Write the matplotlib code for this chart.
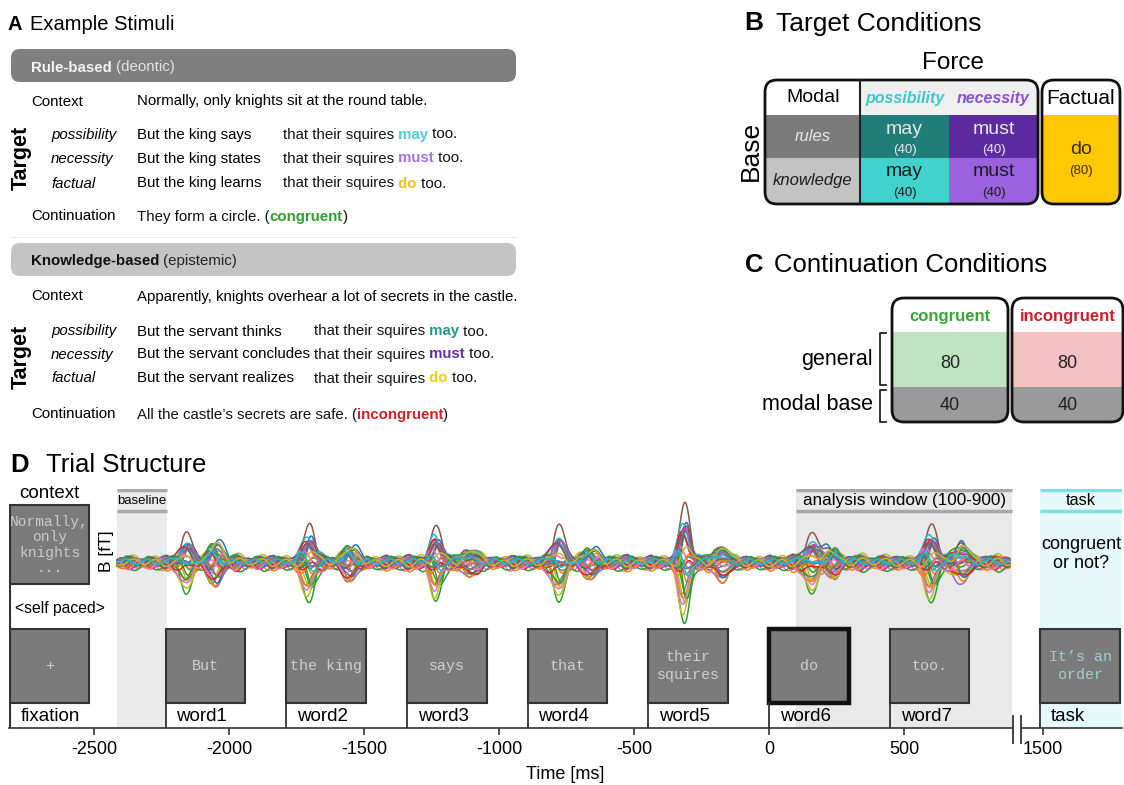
#%%
import numpy as np
import matplotlib
matplotlib.use('Agg')
import matplotlib.pyplot as plt
from matplotlib.patches import Rectangle, FancyBboxPatch

plt.rcParams['font.family'] = ['Liberation Sans', 'DejaVu Sans']
MONO = 'Liberation Mono'

#%% data
# A: example stimuli
forces = ['possibility', 'necessity', 'factual']
modals = ['may', 'must', 'do']
rule_context = 'Normally, only knights sit at the round table.'
rule_verbs = ['But the king says', 'But the king states', 'But the king learns']
rule_modal_colors = ['#4dcfcf', '#a46ee0', '#f2c21a']
rule_continuation = 'They form a circle. ('
know_context = 'Apparently, knights overhear a lot of secrets in the castle.'
know_verbs = ['But the servant thinks', 'But the servant concludes', 'But the servant realizes']
know_modal_colors = ['#2a9688', '#6a2aa6', '#f5cf00']
know_continuation = 'All the castle\u2019s secrets are safe. ('

# B: target conditions (trials per cell)
base_rows = ['rules', 'knowledge']
force_cols = ['possibility', 'necessity']
cell_words = [['may', 'must'], ['may', 'must']]
cell_counts = [[40, 40], [40, 40]]
factual_count = 80

# C: continuation conditions
cont_cols = ['congruent', 'incongruent']
general_counts = [80, 80]
modal_base_counts = [40, 40]

# D: trial structure (ms, word6 onset = 0)
stim_labels = ['fixation', 'word1', 'word2', 'word3', 'word4', 'word5', 'word6', 'word7', 'task']
stim_words = ['+', 'But', 'the king', 'says', 'that', 'their\nsquires', 'do', 'too.', 'It\u2019s an\norder']
stim_onsets = [-2812, -2235, -1788, -1341, -894, -447, 0, 447, 1490]
stim_dur = 295
baseline_win = (-2415, -2230)
analysis_win = (100, 900)
task_start = 1490
GAP = 485          # ms cut out of the axis before the task screen
tick_vals = [-2500, -2000, -1500, -1000, -500, 0, 500, 1500]

# evoked field components: peak time (ms), amplitude (fT), width (ms), topography
peak_t = [-2155, -2044, -1700, -1545, -1230, -1108, -775, -653, -310, -172, 161, 224, 605, 716]
peak_amp = [26, 24, 34, 17, 32, 13, 34, 15, 54, 18, 25, 14, 34, 20]
peak_sd = [20, 22, 20, 24, 20, 24, 20, 24, 18, 24, 22, 24, 20, 24]
peak_pat = [0, 1, 0, 1, 0, 1, 0, 1, 0, 1, 0, 1, 0, 1]
# weaker sources peaking a little earlier/later than the main ones
comp_t = [-2172, -2066, -1718, -1562, -1248, -1124, -792, -668, -326, -188, 146, 240, 588, 700]
comp_amp = [14, 12, 18, 10, 16, 9, 17, 9, 24, 11, 14, 9, 18, 12]
comp_sd = [18, 20, 18, 22, 18, 22, 18, 22, 16, 22, 20, 22, 18, 22]
ripple_t = [-2400, -2362, -2318, -2281, -2236, -2190, -2122, -2083, -2005, -1968,
            -1925, -1881, -1840, -1796, -1752, -1660, -1618, -1580, -1507, -1466,
            -1421, -1379, -1336, -1292, -1260, -1190, -1150, -1072, -1030, -985,
            -947, -902, -858, -815, -735, -697, -612, -570, -529, -488,
            -441, -398, -355, -262, -220, -130, -88, -45, 0, 42,
            85, 120, 195, 262, 300, 341, 383, 426, 470, 515,
            560, 650, 690, 755, 800, 842, 880]
ripple_amp = [5, 7, 4, 6, 8, 6, 8, 7, 6, 9,
              5, 7, 8, 6, 7, 9, 6, 8, 7, 5,
              8, 6, 9, 7, 6, 8, 7, 9, 6, 5,
              8, 7, 6, 9, 7, 8, 6, 7, 9, 5,
              8, 6, 7, 8, 9, 6, 7, 5, 8, 6,
              9, 7, 8, 6, 7, 9, 5, 8, 7, 6,
              9, 7, 8, 6, 7, 8, 6]
ripple2_t = [-2380, -2340, -2300, -2258, -2214, -2170, -2140, -2100, -2064, -2020,
             -1985, -1945, -1900, -1862, -1818, -1775, -1735, -1690, -1640, -1600,
             -1560, -1525, -1487, -1445, -1400, -1356, -1315, -1275, -1240, -1210,
             -1170, -1130, -1090, -1050, -1010, -965, -925, -880, -836, -795,
             -755, -715, -675, -635, -592, -550, -508, -465, -420, -377,
             -335, -295, -240, -200, -160, -110, -68, -25, 20, 62,
             102, 140, 175, 215, 245, 282, 320, 362, 405, 448,
             492, 536, 580, 625, 668, 712, 735, 778, 820, 860]
RIPPLE2_AMP = 5
# sensor loadings for each topography
topo = [
    [0.78, -0.55, -0.92, 0.62, 0.70, 1.00, 0.35, -0.20, -0.80, 0.48,
     0.10, -0.42, -0.70, 0.25, 0.55, 0.90, -0.05, -0.30, -0.62, 0.40,
     -0.15, 0.18, -0.85, 0.05, 0.66, 0.28, -0.48, -0.10, 0.32, -0.36],
    [1.00, -0.40, 0.20, -0.60, -0.85, 0.65, 0.10, -0.25, 0.45, -0.15,
     0.80, -0.70, 0.30, 0.05, -0.50, 0.55, -0.30, 0.70, -0.10, 0.25,
     -0.90, 0.40, 0.15, -0.45, 0.60, -0.20, 0.35, -0.65, 0.90, -0.05],
    [0.50, -0.90, 0.30, 1.00, -0.40, 0.20, -0.70, 0.80, -0.10, 0.60,
     -0.50, 0.90, -0.30, 0.10, -0.80, 0.40, 0.70, -0.60, 0.00, -0.20,
     0.85, -0.95, 0.35, -0.15, 0.55, -0.75, 0.25, 0.65, -0.45, 0.15],
    [-0.60, 0.40, 0.90, -0.20, 0.70, -0.80, 0.10, -0.50, 1.00, -0.30,
     0.20, 0.60, -0.90, 0.50, 0.30, -0.10, -0.70, 0.80, -0.40, 0.95,
     -0.25, 0.05, 0.45, -0.85, -0.35, 0.75, -0.65, 0.15, 0.55, -0.05],
    [-0.30, 0.85, -0.60, 0.20, -0.45, 0.35, 0.55, -0.90, 0.10, 0.70,
     -0.20, -0.65, 0.40, 0.80, -0.05, -0.75, 0.60, 0.25, -0.95, 0.45,
     0.15, -0.50, 0.90, -0.35, 0.05, 0.65, -0.80, 0.30, -0.15, 0.75],
    [0.90, 0.15, -0.45, -0.85, 0.35, 0.60, -0.95, 0.05, 0.70, -0.40,
     0.55, 0.20, -0.75, -0.30, 0.95, -0.60, 0.10, 0.45, 0.80, -0.90,
     0.25, 0.65, -0.20, 0.50, -0.70, -0.10, 0.85, -0.55, 0.35, -0.25],
]

#%% figure, one overlay axes in pixel units
fig = plt.figure(figsize=(11.24, 7.85), dpi=100)
ax = fig.add_axes([0, 0, 1, 1])
ax.set_xlim(0, 1124)
ax.set_ylim(785, 0)
ax.axis('off')
R = fig.canvas.get_renderer()


def rich(x, y, parts, size):
    # consecutive text pieces on one baseline
    for s, color, weight, style in parts:
        t = ax.text(x, y, s, fontsize=size, color=color, fontweight=weight,
                    fontstyle=style, va='center_baseline', ha='left')
        x += t.get_window_extent(R).width


def heading(x, y, letter, title, size, gap):
    t = ax.text(x, y, letter, fontsize=size, fontweight='bold', va='center_baseline')
    ax.text(x + t.get_window_extent(R).width + gap, y, title, fontsize=size, va='center_baseline')


#%% A
BODY = 10.8
heading(8, 23, 'A', 'Example Stimuli', 14.5, 7)


def stim_block(ybar, bar_fc, title, title_c, sub, sub_c, context, verbs, x2,
               mcolors, cont, cont_word, cont_c, y_ctx, y_rows, y_target, y_cont):
    ax.add_patch(FancyBboxPatch((11, ybar), 505, 33, boxstyle='round,pad=0,rounding_size=9',
                                fc=bar_fc, ec='none'))
    rich(31, ybar + 17, [(title, title_c, 'bold', 'normal'), (' ' + sub, sub_c, 'normal', 'normal')], BODY)
    ax.text(31, y_ctx, 'Context', fontsize=BODY, va='center_baseline')
    ax.text(137, y_ctx, context, fontsize=BODY, va='center_baseline')
    for yy, f, v, m, mc in zip(y_rows, forces, verbs, modals, mcolors):
        ax.text(51, yy, f, fontsize=BODY, style='italic', va='center_baseline')
        ax.text(137, yy, v, fontsize=BODY, va='center_baseline')
        rich(x2, yy, [('that their squires', '#111111', 'normal', 'normal'),
                      (' ' + m, mc, 'bold', 'normal'),
                      (' too.', '#111111', 'normal', 'normal')], BODY)
    ax.text(21, y_target, 'Target', fontsize=15.5, fontweight='bold', rotation=90,
            ha='center', va='center')
    ax.text(31, y_cont, 'Continuation', fontsize=BODY, va='center_baseline')
    rich(137, y_cont, [(cont, '#111111', 'normal', 'normal'),
                       (cont_word, cont_c, 'bold', 'normal'),
                       (')', '#111111', 'normal', 'normal')], BODY)


stim_block(49, '#7f7f7f', 'Rule-based', '#f4f4f4', '(deontic)', '#e4e4e4',
           rule_context, rule_verbs, 283, rule_modal_colors,
           rule_continuation, 'congruent', '#2e9e2e', 100, [133, 157, 182], 158, 215)
ax.plot([11, 516], [237, 237], color='#ececec', lw=1)
stim_block(243, '#c4c4c4', 'Knowledge-based', '#111111', '(epistemic)', '#222222',
           know_context, know_verbs, 314, know_modal_colors,
           know_continuation, 'incongruent', '#d02028', 295, [330, 353, 377], 357, 413)

#%% B
heading(744, 21, 'B', 'Target Conditions', 19, 13)
ax.text(953, 63, 'Force', fontsize=17.5, ha='center', va='center')
ax.text(751, 151, 'Base', fontsize=19, rotation=90, ha='center', va='center')

outline = FancyBboxPatch((765, 80), 273, 124, boxstyle='round,pad=0,rounding_size=12',
                         fc='none', ec='#111111', lw=2, zorder=4)
ax.add_patch(outline)
col_x = [765, 860, 949, 1038]
row_y = [80, 115, 158, 204]
modal_fc = ['#7b7b7b', '#c3c3c3']
modal_tc = ['#e6e6e6', '#1e1e1e']
force_fc = [['#1f7d7a', '#5b2b9f'], ['#41d2ce', '#9b62de']]
force_tc = ['#e8e8e8', '#1e1e1e']
head_c = ['#3cc9c9', '#8c4fd6']


def cell(x0, y0, x1, y1, fc, clip):
    r = Rectangle((x0, y0), x1 - x0, y1 - y0, fc=fc, ec='none', zorder=2)
    ax.add_patch(r)
    r.set_clip_path(clip)


cell(col_x[1], row_y[0], col_x[3], row_y[1], '#efefef', outline)
for i, name in enumerate(base_rows):
    y0, y1 = row_y[i + 1], row_y[i + 2]
    cell(col_x[0], y0, col_x[1], y1, modal_fc[i], outline)
    ax.text((col_x[0] + col_x[1]) / 2, (y0 + y1) / 2, name, fontsize=12, style='italic',
            color=modal_tc[i], ha='center', va='center', zorder=5)
    for j in range(2):
        cell(col_x[j + 1], y0, col_x[j + 2], y1, force_fc[i][j], outline)
        cx = (col_x[j + 1] + col_x[j + 2]) / 2
        ax.text(cx, y0 + 14, cell_words[i][j], fontsize=14, color=force_tc[i],
                ha='center', va='center', zorder=5)
        ax.text(cx, y0 + 35, f'({cell_counts[i][j]})', fontsize=9.5, color=force_tc[i],
                ha='center', va='center', zorder=5)
ax.plot([col_x[1], col_x[1]], [80, 204], color='#222222', lw=1.5, zorder=4)
ax.text(813, 98, 'Modal', fontsize=14, ha='center', va='center', zorder=5)
for j, f in enumerate(force_cols):
    ax.text((col_x[j + 1] + col_x[j + 2]) / 2, 98, f, fontsize=11.5, color=head_c[j],
            fontweight='bold', style='italic', ha='center', va='center', zorder=5)

fact = FancyBboxPatch((1042, 80), 78, 124, boxstyle='round,pad=0,rounding_size=12',
                      fc='none', ec='#111111', lw=2, zorder=4)
ax.add_patch(fact)
cell(1042, 115, 1120, 204, '#ffc800', fact)
ax.text(1081, 98, 'Factual', fontsize=15, ha='center', va='center', zorder=5)
ax.text(1081, 150, 'do', fontsize=14, color='#3a2e00', ha='center', va='center', zorder=5)
ax.text(1081, 171, f'({factual_count})', fontsize=9.5, color='#3a2e00',
        ha='center', va='center', zorder=5)

#%% C
heading(745, 262, 'C', 'Continuation Conditions', 18.5, 10)
box_x = [(892, 1008), (1012, 1123)]
gen_fc = ['#c0e4c0', '#f3c1c1']
head_tc = ['#3aa63a', '#cc1f2d']
for j, (x0, x1) in enumerate(box_x):
    ol = FancyBboxPatch((x0, 298), x1 - x0, 124, boxstyle='round,pad=0,rounding_size=12',
                        fc='none', ec='#111111', lw=2, zorder=4)
    ax.add_patch(ol)
    cell(x0, 332, x1, 387, gen_fc[j], ol)
    cell(x0, 387, x1, 422, '#9a9a9a', ol)
    cx = (x0 + x1) / 2
    ax.text(cx, 316, cont_cols[j], fontsize=12, color=head_tc[j], fontweight='bold',
            ha='center', va='center', zorder=5)
    ax.text(cx, 363, str(general_counts[j]), fontsize=13, color='#222222',
            ha='center', va='center', zorder=5)
    ax.text(cx, 405, str(modal_base_counts[j]), fontsize=13, color='#222222',
            ha='center', va='center', zorder=5)
ax.text(873, 359, 'general', fontsize=15.5, ha='right', va='center')
ax.text(873, 404, 'modal base', fontsize=15.5, ha='right', va='center')
for y0, y1 in [(333, 385), (390, 422)]:
    ax.plot([886, 880, 880, 886], [y0, y0, y1, y1], color='#222222', lw=1.3)

#%% D
heading(10, 463, 'D', 'Trial Structure', 18.5, 17)
X0, X1 = 9, 1122          # pixel extent of the time axis
T0 = -2815
T1 = T0 + (X1 - X0) / 0.27001


def fpos(x0, y_top, x1, y_bot):
    return [x0 / 1124, (785 - y_bot) / 785, (x1 - x0) / 1124, (y_bot - y_top) / 785]


axd = fig.add_axes(fpos(X0, 489, X1, 728))
axd.set_xlim(T0, T1)
axd.set_ylim(728, 489)
axd.patch.set_alpha(0)
for s in ['left', 'right', 'top']:
    axd.spines[s].set_visible(False)
axd.spines['bottom'].set_linewidth(1.2)
axd.spines['bottom'].set_color('#333333')
axd.set_yticks([])
axd.set_xticks([v - GAP if v >= task_start else v for v in tick_vals])
axd.set_xticklabels([str(v) for v in tick_vals])
axd.tick_params(axis='x', length=5, width=1.2, color='#333333', labelsize=13, pad=4)
axd.set_xlabel('Time [ms]', fontsize=13, labelpad=6)

# shaded windows with their header strips
ts = task_start - GAP
for (a, b), fc, lc, lab, fs in [(baseline_win, '#ebebeb', '#a8a8a8', 'baseline', 9.5),
                                (analysis_win, '#e9e9e9', '#a8a8a8', 'analysis window (100-900)', 12.3),
                                ((ts, T1), '#e6f9fb', '#7fe0e6', 'task', 11.8)]:
    axd.add_patch(Rectangle((a, 489), b - a, 239, fc=fc, ec='none', zorder=0))
    axd.plot([a, b], [490.5, 490.5], color=lc, lw=2.5, zorder=1, solid_capstyle='butt')
    axd.plot([a, b], [511.5, 511.5], color=lc, lw=2.5, zorder=1, solid_capstyle='butt')
    axd.text((a + b) / 2, 501, lab, fontsize=fs, ha='center', va='center', zorder=2)

# context screen and self-paced note
c0 = stim_onsets[0]
axd.add_patch(Rectangle((c0, 505), stim_dur, 79, fc='#7b7b7b', ec='#333333', lw=1.5, zorder=2))
axd.text(c0 + stim_dur / 2, 545, 'Normally,\nonly\nknights\n...', family=MONO, fontsize=10.5,
         color='#c9c9c9', ha='center', va='center', linespacing=1.12, zorder=3)
axd.text(c0 + stim_dur / 2, 494, 'context', fontsize=13.5, ha='center', va='center')
axd.text(c0 + 18, 609, '<self paced>', fontsize=11.3, ha='left', va='center')
axd.plot([c0, c0], [505, 728], color='#333333', lw=1.5, zorder=3)

# stimulus screens
for lab, word, on in zip(stim_labels, stim_words, stim_onsets):
    x = on - GAP if on >= task_start else on
    thick = lab == 'word6'
    axd.add_patch(Rectangle((x, 629), stim_dur, 74, fc='#7b7b7b',
                            ec='#111111' if thick else '#333333', lw=3.2 if thick else 1.5, zorder=2))
    tc = '#9fcfd2' if lab == 'task' else '#cfcfcf'
    axd.text(x + stim_dur / 2, 666, word, family=MONO, fontsize=10.8, color=tc,
             ha='center', va='center', linespacing=1.3, zorder=3)
    axd.text(x + 40, 717, lab, fontsize=13.5, ha='left', va='center', zorder=3)
    axd.plot([x, x], [703, 728], color='#333333', lw=1.3, zorder=3)

axd.text(ts + (T1 - ts) / 2, 554, 'congruent\nor not?', fontsize=13, ha='center',
         va='center', linespacing=1.15)

# axis break before the task screen
b0, b1 = (1013 - X0) / 0.27001 + T0, (1021 - X0) / 0.27001 + T0
axd.add_patch(Rectangle((b0, 726), b1 - b0, 4, fc='white', ec='none', zorder=4, clip_on=False))
for b in (b0, b1):
    axd.plot([b, b], [716, 743], color='#333333', lw=1.3, zorder=5, clip_on=False)

# sensor-level evoked fields
axw = fig.add_axes(fpos(X0, 493, X1, 633))
axw.set_xlim(T0, T1)
axw.set_ylim(-70, 70)
axw.axis('off')
axw.patch.set_alpha(0)
tt = np.arange(baseline_win[0], analysis_win[1] - 8, 2.0)
gains = np.array(topo)
traces = np.zeros((gains.shape[1], tt.size))


def add_source(tk, ak, sk, pk):
    global traces
    traces += np.outer(gains[pk], ak * np.exp(-0.5 * ((tt - tk) / sk) ** 2))


for tk, ak, sk, pk in zip(peak_t, peak_amp, peak_sd, peak_pat):
    add_source(tk, ak, sk, pk)
for tk, ak, sk in zip(comp_t, comp_amp, comp_sd):
    add_source(tk, ak, sk, 4)
for i, (tk, ak) in enumerate(zip(ripple_t, ripple_amp)):
    add_source(tk, ak, 16, 2 + i % 2)
for i, tk in enumerate(ripple2_t):
    add_source(tk, RIPPLE2_AMP, 12, 4 + i % 2)
for i, tr in enumerate(traces):
    axw.plot(tt, tr, lw=1.1, color=f'C{i % 10}')
ax.text(107, 551, 'B [fT]', fontsize=12.5, rotation=90, ha='center', va='center')

fig.savefig('out.png', dpi=100, facecolor='white')
